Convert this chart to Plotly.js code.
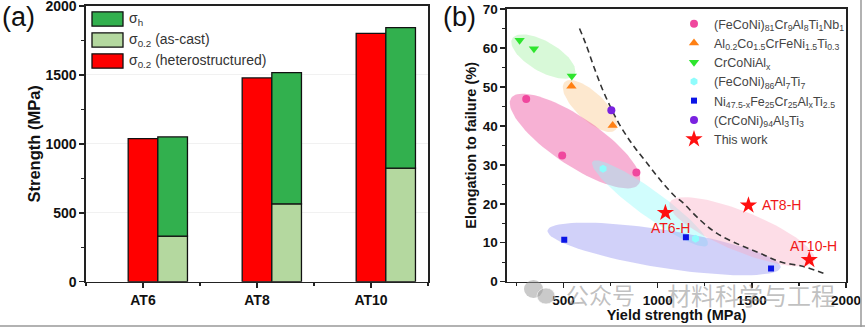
<!DOCTYPE html>
<html>
<head>
<meta charset="utf-8">
<script src="https://cdn.plot.ly/plotly-3.0.1.min.js"></script>
<style>html,body{margin:0;padding:0;background:#fff;}#chart{width:865px;height:327px;}</style>
</head>
<body>
<div id="chart"></div>
<script>
// ---------- Panel (a) data ----------
const categories = ['AT6', 'AT8', 'AT10'];
const sigmaHetero = [1038, 1478, 1802];   // σ0.2 (heterostructured)
const sigmaAsCast = [331, 565, 824];      // σ0.2 (as-cast)
const sigmaH = [1050, 1517, 1843];        // σh (top of stacked bar)
const legendA = ['σ<sub>h</sub>', 'σ<sub>0.2</sub> (as-cast)', 'σ<sub>0.2</sub> (heterostructured)'];

// ---------- Panel (b) data ----------
const s1Name = '(FeCoNi)<sub>81</sub>Cr<sub>9</sub>Al<sub>8</sub>Ti<sub>1</sub>Nb<sub>1</sub>';
const s1X = [302, 493, 887];
const s1Y = [46.9, 32.4, 28.0];
const s2Name = 'Al<sub>0.2</sub>Co<sub>1.5</sub>CrFeNi<sub>1.5</sub>Ti<sub>0.3</sub>';
const s2X = [542, 761];
const s2Y = [50.2, 40.1];
const s3Name = 'CrCoNiAl<sub>x</sub>';
const s3X = [267, 343, 544];
const s3Y = [62.0, 59.8, 52.8];
const s4Name = '(FeCoNi)<sub>86</sub>Al<sub>7</sub>Ti<sub>7</sub>';
const s4X = [710, 1201];
const s4Y = [29.0, 11.0];
const s5Name = 'Ni<sub>47.5-x</sub>Fe<sub>25</sub>Cr<sub>25</sub>Al<sub>x</sub>Ti<sub>2.5</sub>';
const s5X = [504, 1150, 1602];
const s5Y = [10.8, 11.4, 3.4];
const s6Name = '(CrCoNi)<sub>94</sub>Al<sub>3</sub>Ti<sub>3</sub>';
const s6X = [754];
const s6Y = [44.0];
const s7Name = 'This work';
const s7X = [1041, 1482, 1805];
const s7Y = [17.7, 19.6, 5.6];
const s7Labels = ['AT6-H', 'AT8-H', 'AT10-H'];

// dashed trend boundary
const trendX = [585, 617, 661, 705, 749, 793, 838, 882, 944, 1014, 1094, 1129, 1226, 1315, 1438, 1544, 1650, 1774, 1880];
const trendY = [65.0, 61.2, 55.2, 49.6, 44.9, 40.7, 37.2, 34.2, 30.4, 26.1, 21.8, 20.5, 15.8, 12.4, 9.4, 7.3, 5.1, 3.9, 2.2];

// shaded regions: centre in data units, semi-axes in px, tilt in degrees (screen, clockwise)
const regionCx = [393, 641, 561, 959, 1034, 1448];
const regionCy = [57.8, 45.1, 36.1, 20.1, 8.4, 12.8];
const regionA = [36, 35, 77, 71, 118, 78];
const regionB = [15, 14, 24, 13, 19, 20];
const regionAng = [30, 43, 34, 36, 9, 22];
const regionColor = ['rgba(144,238,144,0.35)', 'rgba(250,200,140,0.42)', 'rgba(240,100,170,0.5)',
                     'rgba(140,250,250,0.4)', 'rgba(140,140,240,0.4)', 'rgba(250,170,195,0.4)'];

// ---------- layout geometry ----------
const W = 865, H = 327;
const px = v => v / W;
const py = v => 1 - v / H;
const xDomA = [px(86), px(428)], yDomA = [py(281.7), py(6)];
const xDomB = [px(507), px(846)], yDomB = [py(281.7), py(9)];
const xRangeB = [200, 2000], yRangeB = [0, 70];
const kx = (xDomB[1] - xDomB[0]) * W / (xRangeB[1] - xRangeB[0]);
const ky = (yDomB[1] - yDomB[0]) * H / (yRangeB[1] - yRangeB[0]);

const FONT = 'Liberation Sans, Arial, sans-serif';
const AX = '#222';
const RED = '#ff0000', GREEN = '#32b04e', LIGHT = '#b4d89f';

const traces = [];
const idx = categories.map((c, i) => i);
const barW = 0.26;
traces.push({type: 'bar', x: idx, y: sigmaHetero, offset: -barW / 2, width: barW,
  marker: {color: RED, line: {color: '#111', width: 1.3}}, showlegend: false, xaxis: 'x', yaxis: 'y', name: legendA[2]});
traces.push({type: 'bar', x: idx, y: sigmaAsCast, offset: barW / 2, width: barW,
  marker: {color: LIGHT, line: {color: '#111', width: 1.3}}, showlegend: false, xaxis: 'x', yaxis: 'y', name: legendA[1]});
traces.push({type: 'bar', x: idx, y: sigmaH.map((v, i) => v - sigmaAsCast[i]), base: sigmaAsCast, offset: barW / 2, width: barW,
  marker: {color: GREEN, line: {color: '#111', width: 1.3}}, showlegend: false, xaxis: 'x', yaxis: 'y', name: legendA[0]});

// shaded regions
for (let r = 0; r < regionCx.length; r++) {
  const xs = [], ys = [];
  const th = regionAng[r] * Math.PI / 180;
  for (let k = 0; k <= 90; k++) {
    const t = 2 * Math.PI * k / 90;
    const dx = regionA[r] * Math.cos(t) * Math.cos(th) - regionB[r] * Math.sin(t) * Math.sin(th);
    const dy = regionA[r] * Math.cos(t) * Math.sin(th) + regionB[r] * Math.sin(t) * Math.cos(th);
    xs.push(regionCx[r] + dx / kx);
    ys.push(regionCy[r] - dy / ky);
  }
  traces.push({type: 'scatter', mode: 'lines', x: xs, y: ys, fill: 'toself', fillcolor: regionColor[r],
    line: {width: 0, color: 'rgba(0,0,0,0)'}, showlegend: false, hoverinfo: 'skip', xaxis: 'x2', yaxis: 'y2'});
}

traces.push({type: 'scatter', mode: 'lines', x: trendX, y: trendY, line: {color: '#333', width: 1.6, dash: '6px,4px', shape: 'spline'},
  showlegend: false, xaxis: 'x2', yaxis: 'y2'});

const series = [
  [s1Name, s1X, s1Y, 'circle', '#f0479e', 8],
  [s2Name, s2X, s2Y, 'triangle-up', '#ff8014', 9],
  [s3Name, s3X, s3Y, 'triangle-down', '#2ee52e', 9],
  [s4Name, s4X, s4Y, 'hexagon', '#8ffcfc', 8],
  [s5Name, s5X, s5Y, 'square', '#0a14e6', 6],
  [s6Name, s6X, s6Y, 'circle', '#7a22e0', 8],
  [s7Name, s7X, s7Y, 'star', '#ff1010', 13]
];
series.forEach(s => traces.push({type: 'scatter', mode: 'markers', name: s[0], x: s[1], y: s[2],
  marker: {symbol: s[3], color: s[4], size: s[5], line: {width: 0}}, xaxis: 'x2', yaxis: 'y2'}));

const annotations = [
  {text: '(a)', xref: 'paper', yref: 'paper', x: px(0), y: py(17), xanchor: 'left', yanchor: 'middle', showarrow: false,
   font: {family: FONT, size: 27, color: '#111'}},
  {text: '(b)', xref: 'paper', yref: 'paper', x: px(441), y: py(17), xanchor: 'left', yanchor: 'middle', showarrow: false,
   font: {family: FONT, size: 27, color: '#111'}}
];
const legYA = [19, 40, 61];
const legColA = [GREEN, LIGHT, RED];
const shapes = [];
legendA.forEach((t, i) => {
  shapes.push({type: 'rect', xref: 'paper', yref: 'paper', x0: px(92), x1: px(123), y0: py(legYA[i] - 7.2), y1: py(legYA[i] + 7.2),
    fillcolor: legColA[i], line: {color: '#111', width: 1.3}});
  annotations.push({text: t, xref: 'paper', yref: 'paper', x: px(127), y: py(legYA[i]), xanchor: 'left', yanchor: 'middle',
    showarrow: false, font: {family: FONT, size: 14, color: '#333'}});
});
const labShift = [[5, -15, 'center'], [12, 0, 'left'], [4, 14, 'center']];
s7Labels.forEach((t, i) => annotations.push({text: t, xref: 'x2', yref: 'y2', x: s7X[i], y: s7Y[i],
  xanchor: labShift[i][2], yanchor: 'middle', xshift: labShift[i][0], yshift: labShift[i][1], showarrow: false,
  font: {family: FONT, size: 14, color: '#f01818'}}));
// watermark
annotations.push({text: '公众号', xref: 'paper', yref: 'paper', x: px(600), y: py(294), xanchor: 'center', yanchor: 'middle',
  showarrow: false, font: {family: 'Noto Sans CJK SC', size: 23, color: 'rgba(140,140,140,0.55)'}});
annotations.push({text: '材料科学与工程', xref: 'paper', yref: 'paper', x: px(751), y: py(294), xanchor: 'center', yanchor: 'middle',
  showarrow: false, font: {family: 'Noto Sans CJK SC', size: 24, color: 'rgba(140,140,140,0.55)'}});
shapes.push({type: 'circle', xref: 'paper', yref: 'paper', x0: px(524), x1: px(543), y0: py(280), y1: py(298),
  fillcolor: 'rgba(150,150,150,0.5)', line: {width: 0}});
shapes.push({type: 'circle', xref: 'paper', yref: 'paper', x0: px(537), x1: px(555), y0: py(288), y1: py(304),
  fillcolor: 'rgba(150,150,150,0.5)', line: {color: 'rgba(255,255,255,0.6)', width: 1}});
// photo border lines
shapes.push({type: 'line', xref: 'paper', yref: 'paper', x0: 0, x1: 1, y0: py(326), y1: py(326), line: {color: '#999', width: 1.5}});
shapes.push({type: 'line', xref: 'paper', yref: 'paper', x0: px(861), x1: px(861), y0: 0, y1: 1, line: {color: '#999', width: 1.5}});

const tickFont = {family: FONT, size: 14, color: '#111', weight: 'bold'};
const layout = {
  width: W, height: H, margin: {l: 0, r: 0, t: 0, b: 0}, paper_bgcolor: '#fff', plot_bgcolor: '#fff',
  barmode: 'overlay', hovermode: false,
  xaxis: {domain: xDomA, range: [-0.5, 2.5], tickmode: 'array', tickvals: idx, ticktext: categories,
    ticks: 'outside', ticklen: 5, tickwidth: 1.5, tickcolor: AX, showline: true, mirror: true, linecolor: AX, linewidth: 1.6,
    showgrid: false, zeroline: false, tickfont: tickFont, fixedrange: true,
    minor: {tickmode: 'linear', tick0: 0.5, dtick: 1, ticks: 'outside', ticklen: 3, tickwidth: 1.3, tickcolor: AX}},
  yaxis: {domain: yDomA, range: [0, 2000], tickmode: 'array', tickvals: [0, 500, 1000, 1500, 2000], ticklabeloverflow: 'allow',
    ticks: 'outside', ticklen: 5, tickwidth: 1.5, tickcolor: AX,
    showline: true, mirror: true, linecolor: AX, linewidth: 1.6, showgrid: true, gridcolor: '#f1f1f1', zeroline: false,
    tickfont: tickFont, fixedrange: true,
    title: {text: 'Strength (MPa)', font: {family: FONT, size: 16.5, color: '#111', weight: 'bold'}},
    minor: {tickmode: 'linear', tick0: 250, dtick: 500, ticks: 'outside', ticklen: 3, tickwidth: 1.3, tickcolor: AX}},
  xaxis2: {domain: xDomB, range: xRangeB, anchor: 'y2', tickmode: 'array', tickvals: [500, 1000, 1500, 2000], ticklabeloverflow: 'allow',
    ticks: 'outside', ticklen: 5, tickwidth: 1.5, tickcolor: AX, showline: true, mirror: true, linecolor: AX, linewidth: 1.6,
    showgrid: false, zeroline: false, tickfont: {family: FONT, size: 13.5, color: '#111', weight: 'bold'}, fixedrange: true,
    title: {text: 'Yield strength (MPa)', standoff: 0, font: {family: FONT, size: 14.5, color: '#111', weight: 'bold'}},
    minor: {tickmode: 'linear', tick0: 250, dtick: 250, ticks: 'outside', ticklen: 3, tickwidth: 1.3, tickcolor: AX}},
  yaxis2: {domain: yDomB, range: yRangeB, anchor: 'x2', dtick: 10, ticks: 'outside', ticklen: 5, tickwidth: 1.5, tickcolor: AX,
    showline: true, mirror: true, linecolor: AX, linewidth: 1.6, showgrid: false, zeroline: false, ticklabeloverflow: 'allow',
    tickfont: {family: FONT, size: 13.5, color: '#111', weight: 'bold'}, fixedrange: true,
    title: {text: 'Elongation to failure (%)', standoff: 2, font: {family: FONT, size: 14.5, color: '#111', weight: 'bold'}},
    minor: {dtick: 5, ticks: 'outside', ticklen: 3, tickwidth: 1.3, tickcolor: AX}},
  legend: {x: px(674), y: py(9), xanchor: 'left', yanchor: 'top', bgcolor: 'rgba(0,0,0,0)', borderwidth: 0,
    font: {family: FONT, size: 12.5, color: '#444'}, itemwidth: 30, tracegroupgap: 0},
  annotations: annotations, shapes: shapes
};
Plotly.newPlot('chart', traces, layout, {displayModeBar: false, staticPlot: true});
</script>
</body>
</html>
